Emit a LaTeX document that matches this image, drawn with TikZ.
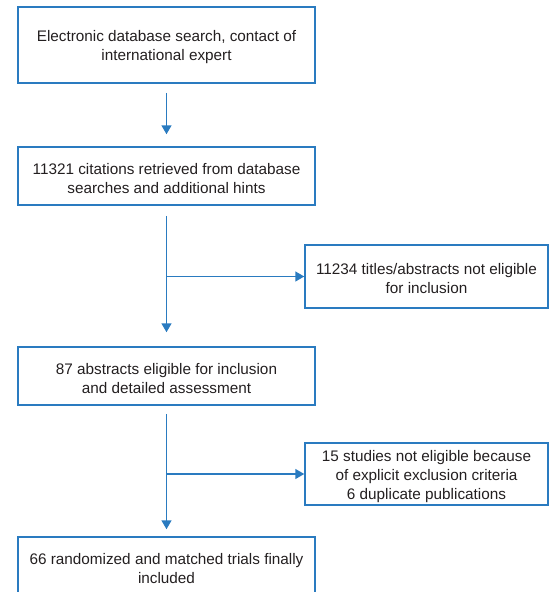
\documentclass[tikz,border=0pt]{standalone}
\usepackage{fontspec}
\setmainfont{Liberation Sans}
\usetikzlibrary{arrows.meta}
\definecolor{lineblue}{HTML}{2A7BC0}
\definecolor{txt}{HTML}{231F20}
\begin{document}
\begin{tikzpicture}[x=1pt,y=1pt,
  box/.style={draw=lineblue, line width=1.5pt, inner sep=0pt},
  wide/.style={box, minimum width=297pt},
  side/.style={box, minimum width=243pt},
  lbl/.style={align=center, text=txt, font=\fontsize{15.3}{19}\selectfont, inner sep=0pt, yshift=-2.5pt},
  conn/.style={draw=lineblue, line width=1.5pt, -{Triangle[width=10pt,length=9pt]}}]
\useasboundingbox (0,0) rectangle (552,-592);
\begin{scope}
\clip (0,0) rectangle (552,-592);
\node[wide, minimum height=76pt] (b1) at (166.5,-45) {};
\node[lbl] (t1) at (b1.center) {Electronic database search, contact of\\international expert};
\node[wide, minimum height=58pt] (b2) at (166.5,-176) {};
\node[lbl] (t2) at (b2.center) {11321 citations retrieved from database\\searches and additional hints};
\node[side, minimum height=63pt] (b3) at (426.5,-276.5) {};
\node[lbl] (t3) at (b3.center) {11234 titles/abstracts not eligible\\for inclusion};
\node[wide, minimum height=58pt] (b4) at (166.5,-376) {};
\node[lbl] (t4) at (b4.center) {87 abstracts eligible for inclusion\\and detailed assessment};
\node[side, minimum height=62pt] (b5) at (426.5,-474) {};
\node[lbl] (t5) at (b5.center) {15 studies not eligible because\\of explicit exclusion criteria\\6 duplicate publications};
\node[wide, minimum height=64pt] (b6) at (166.5,-569) {};
\node[lbl, anchor=north, yshift=0pt] (t6) at (166.5,-551) {66 randomized and matched trials finally\\included};
\coordinate (j1) at (166.5,-276.5);
\coordinate (j2) at (166.5,-474);
\draw[conn, shorten <=9pt, shorten >=12pt] (b1.south) -- (b2.north);
\draw[conn, shorten <=10pt, shorten >=14pt] (b2.south) -- (b4.north);
\draw[conn] (j1) -- (b3.west);
\draw[conn, shorten <=8pt, shorten >=7pt] (b4.south) -- (b6.north);
\draw[conn] (j2) -- (b5.west);
\end{scope}
\end{tikzpicture}
\end{document}
